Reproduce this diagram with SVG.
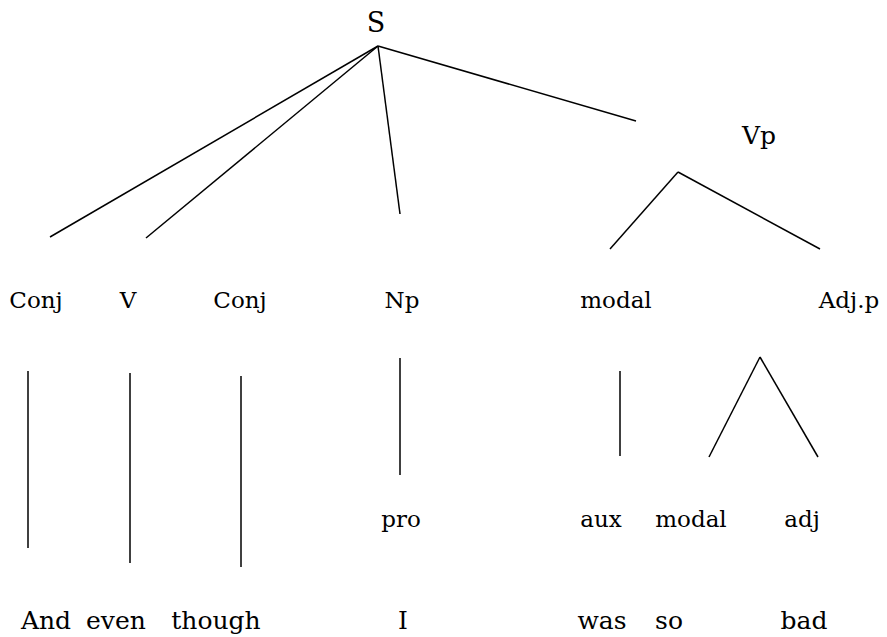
<svg xmlns="http://www.w3.org/2000/svg" width="887" height="637" viewBox="0 0 887 637">
<rect width="887" height="637" fill="#fff"/>
<g id="connectors" stroke="#000" stroke-width="1.5">
<line x1="378" y1="46" x2="50" y2="237"/>
<line x1="378" y1="46" x2="146" y2="238"/>
<line x1="378" y1="46" x2="400" y2="214"/>
<line x1="378" y1="46" x2="636" y2="121"/>
<line x1="678" y1="172" x2="610" y2="249"/>
<line x1="678" y1="172" x2="820" y2="249"/>
<line x1="28" y1="371" x2="28" y2="548"/>
<line x1="130" y1="373" x2="130" y2="563"/>
<line x1="241" y1="376" x2="241" y2="567"/>
<line x1="400" y1="358" x2="400" y2="475"/>
<line x1="620" y1="371" x2="620" y2="456"/>
<line x1="760" y1="357" x2="709" y2="457"/>
<line x1="760" y1="357" x2="818" y2="457"/>
</g>
<g id="S"><text x="376" y="32" font-family="DejaVu Serif" font-size="27" text-anchor="middle">S</text></g>
<g id="Vp"><text x="759" y="144" font-family="DejaVu Serif" font-size="25" text-anchor="middle">Vp</text></g>
<g id="Conj1"><text x="36" y="308" font-family="DejaVu Serif" font-size="23" text-anchor="middle">Conj</text></g>
<g id="V"><text x="128" y="308" font-family="DejaVu Serif" font-size="23" text-anchor="middle">V</text></g>
<g id="Conj2"><text x="240" y="308" font-family="DejaVu Serif" font-size="23" text-anchor="middle">Conj</text></g>
<g id="Np"><text x="402" y="308" font-family="DejaVu Serif" font-size="23" text-anchor="middle">Np</text></g>
<g id="modal1"><text x="616" y="308" font-family="DejaVu Serif" font-size="23" text-anchor="middle">modal</text></g>
<g id="Adjp"><text x="849" y="308" font-family="DejaVu Serif" font-size="23" text-anchor="middle">Adj.p</text></g>
<g id="pro"><text x="401" y="527" font-family="DejaVu Serif" font-size="23" text-anchor="middle">pro</text></g>
<g id="aux"><text x="601" y="527" font-family="DejaVu Serif" font-size="23" text-anchor="middle">aux</text></g>
<g id="modal2"><text x="691" y="527" font-family="DejaVu Serif" font-size="23" text-anchor="middle">modal</text></g>
<g id="adj"><text x="802" y="527" font-family="DejaVu Serif" font-size="23" text-anchor="middle">adj</text></g>
<g id="And"><text x="46" y="629" font-family="DejaVu Serif" font-size="25" text-anchor="middle">And</text></g>
<g id="even"><text x="116" y="629" font-family="DejaVu Serif" font-size="25" text-anchor="middle">even</text></g>
<g id="though"><text x="216" y="629" font-family="DejaVu Serif" font-size="25" text-anchor="middle">though</text></g>
<g id="I"><text x="403" y="629" font-family="DejaVu Serif" font-size="25" text-anchor="middle">I</text></g>
<g id="was"><text x="602" y="629" font-family="DejaVu Serif" font-size="25" text-anchor="middle">was</text></g>
<g id="so"><text x="669" y="629" font-family="DejaVu Serif" font-size="25" text-anchor="middle">so</text></g>
<g id="bad"><text x="804" y="629" font-family="DejaVu Serif" font-size="25" text-anchor="middle">bad</text></g>
</svg>
